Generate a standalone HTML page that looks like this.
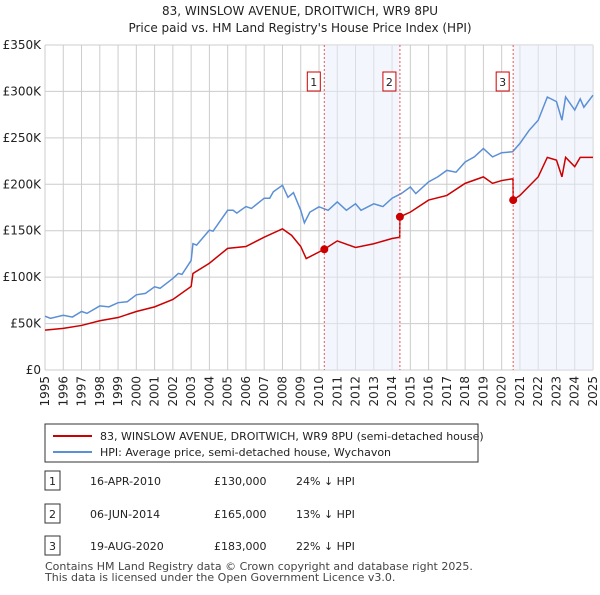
<!DOCTYPE html>
<html><head><meta charset="utf-8"><style>
body{margin:0;width:600px;height:590px;background:#fff;font-family:"Liberation Sans","DejaVu Sans",sans-serif;overflow:hidden}
</style></head><body>
<svg id="c" width="600" height="590" xmlns="http://www.w3.org/2000/svg" font-family="DejaVu Sans, Liberation Sans, sans-serif">
<text x="300" y="15" text-anchor="middle" font-size="12" fill="#222">83, WINSLOW AVENUE, DROITWICH, WR9 8PU</text>
<text x="300" y="32" text-anchor="middle" font-size="12" fill="#222">Price paid vs. HM Land Registry's House Price Index (HPI)</text>
<g id="grid"></g><g id="shade"></g><g id="series"></g><g id="marks"></g>
<g>
<rect x="45" y="424" width="433" height="38" fill="#fff" stroke="#333" stroke-width="1"/>
<line x1="53" y1="436" x2="92" y2="436" stroke="#cc0000" stroke-width="2"/>
<text x="100" y="440" font-size="11" fill="#222">83, WINSLOW AVENUE, DROITWICH, WR9 8PU (semi-detached house)</text>
<line x1="53" y1="452" x2="92" y2="452" stroke="#5b8fd6" stroke-width="2"/>
<text x="100" y="456" font-size="11" fill="#222">HPI: Average price, semi-detached house, Wychavon</text>
</g>
<g id="table" font-size="11" fill="#222"></g>
<text x="45" y="570" font-size="11" fill="#444">Contains HM Land Registry data © Crown copyright and database right 2025.</text>
<text x="45" y="581" font-size="11" fill="#444">This data is licensed under the Open Government Licence v3.0.</text>
</svg>
<script>
const hpiYears=[1995,1995.3,1996,1996.5,1997,1997.3,1998,1998.5,1999,1999.5,2000,2000.5,2001,2001.3,2002,2002.3,2002.5,2003,2003.1,2003.3,2004,2004.2,2005,2005.3,2005.5,2006,2006.3,2007,2007.3,2007.5,2008,2008.3,2008.6,2009,2009.2,2009.5,2010,2010.5,2011,2011.5,2012,2012.3,2013,2013.5,2014,2014.5,2015,2015.3,2016,2016.5,2017,2017.5,2018,2018.5,2019,2019.5,2020,2020.6,2021,2021.5,2022,2022.5,2023,2023.3,2023.5,2024,2024.3,2024.5,2025];
const hpiValues=[58,55.6,59,57,63,61,69,68,72.5,73.5,81,82.5,89.6,88,98.6,104,103,118,136,134.5,150.6,149.5,172,172,169,176,174,185,185,192,199,186,191,172,158.5,170,175.7,172,181,172,179,172,179,176,185,190,197,190,202.6,208,215,213,224,229.5,238.5,229.5,234,235,244,258,269,294,289,269,294,280,292,283,296];
const ppYears=[1995,1996,1997,1998,1999,2000,2001,2002,2003,2003.1,2004,2005,2006,2007,2008,2008.5,2009,2009.3,2010.29,2011,2012,2013,2014,2014.42,2014.43,2015,2016,2017,2018,2019,2019.5,2020,2020.62,2020.63,2021,2022,2022.5,2023,2023.3,2023.5,2024,2024.3,2025];
const ppValues=[43,44.8,48,53,56.5,63,68,76,90,104,115,131,133,143,152,145,133,120,130,139,132,136,141.6,143,165,170,183,188,201,208,201,204,206,183,188,208,229,226,208,229,219,229,229];
const saleLabels=["1","2","3"];
const saleYears=[2010.29,2014.43,2020.63];
const salePrices=[130,165,183];
const saleDates=["16-APR-2010","06-JUN-2014","19-AUG-2020"];
const salePriceText=["£130,000","£165,000","£183,000"];
const saleHpiText=["24% ↓ HPI","13% ↓ HPI","22% ↓ HPI"];
const yTicks=[0,50,100,150,200,250,300,350];
const yTickLabels=["£0","£50K","£100K","£150K","£200K","£250K","£300K","£350K"];

const NS="http://www.w3.org/2000/svg";
const X0=45,X1=593,Y0=370,Y1=45;
const x=y=>X0+(y-1995)/30*(X1-X0);
const yv=v=>Y0-v/350*(Y0-Y1);
function mk(tag,attrs,parent){const e=document.createElementNS(NS,tag);for(const k in attrs)e.setAttribute(k,attrs[k]);parent.appendChild(e);return e;}
const grid=document.getElementById('grid'),shade=document.getElementById('shade'),series=document.getElementById('series'),marks=document.getElementById('marks'),table=document.getElementById('table');
yTicks.forEach((t,i)=>{
 const l=mk('line',{x1:X0,x2:X1,y1:yv(t),y2:yv(t),stroke:'#ccc','stroke-width':1},grid);
 
 
 const tx=mk('text',{x:X0-4,y:yv(t)+4,'text-anchor':'end','font-size':12,fill:'#222'},grid);
 tx.textContent=yTickLabels[i];
 
 
});
for(let yr=1995;yr<=2025;yr++){
 const l=mk('line',{x1:x(yr),x2:x(yr),y1:Y1,y2:Y0,stroke:'#ccc','stroke-width':1},grid);
 
 
 const tx=mk('text',{x:0,y:0,'text-anchor':'end','font-size':12,fill:'#222',transform:`translate(${x(yr)+4},${Y0+6}) rotate(-90)`},grid);
 tx.textContent=yr;
 
 
}
const shadeRanges=[[saleYears[0],saleYears[1]],[saleYears[2],2025]];
shadeRanges.forEach(r=>{
 const s=mk('rect',{x:x(r[0]),y:Y1,width:x(r[1])-x(r[0]),height:Y0-Y1,fill:'#e8effc',opacity:0.5},shade);
 
 
});
const hp=mk('polyline',{points:hpiYears.map((d,i)=>x(d)+','+yv(hpiValues[i])).join(' '),fill:'none',stroke:'#5b8fd6','stroke-width':1.5},series);


const pp=mk('polyline',{points:ppYears.map((d,i)=>x(d)+','+yv(ppValues[i])).join(' '),fill:'none',stroke:'#cc0000','stroke-width':1.5},series);


saleYears.forEach((d,i)=>{
 const vl=mk('line',{x1:x(d),x2:x(d),y1:Y1,y2:Y0,stroke:'#e55','stroke-width':1,'stroke-dasharray':'2,2'},marks);
 
 
 const c=mk('circle',{cx:x(d),cy:yv(salePrices[i]),r:4,fill:'#cc0000'},marks);
 
 
 const b=mk('rect',{x:x(d)-17,y:72,width:13,height:19,fill:'#fff',stroke:'#cc0000'},marks);
 
 
 const t=mk('text',{x:x(d)-10.5,y:86,'text-anchor':'middle','font-size':11,fill:'#222'},marks);
 t.textContent=saleLabels[i];
 
 
 const ry=[481,514,546][i];
 const tb=mk('rect',{x:45,y:ry-10,width:15,height:19,fill:'#fff',stroke:'#333'},table);
 
 
 const cells=[[52.5,saleLabels[i],'middle'],[90,saleDates[i],'start'],[214,salePriceText[i],'start'],[296,saleHpiText[i],'start']];
 cells.forEach(cc=>{
  const tt=mk('text',{x:cc[0],y:ry+4,'text-anchor':cc[2],'font-size':11,fill:'#222'},table);
  tt.textContent=cc[1];
  
  
 });
});
</script>
</body></html>
